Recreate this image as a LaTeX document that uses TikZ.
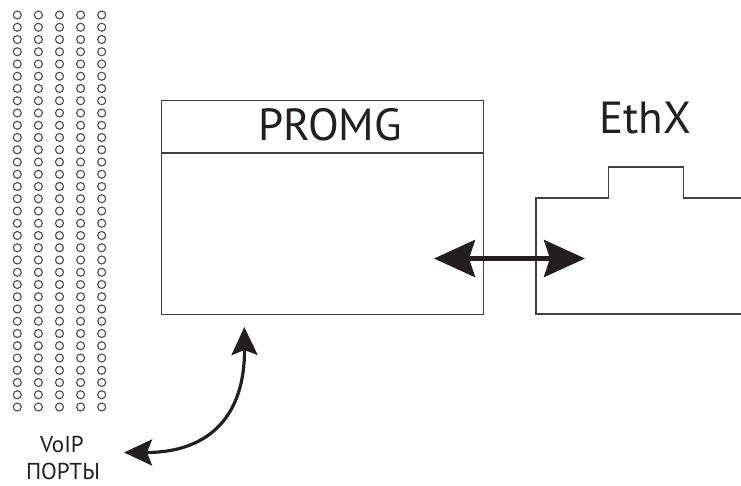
\documentclass[tikz,border=0pt]{standalone}
\usepackage{fontspec}
\setmainfont{PT Sans}
\usetikzlibrary{arrows.meta}
\definecolor{ink}{HTML}{231F20}
\definecolor{edge}{HTML}{404040}
\tikzset{
  boxline/.style={draw=edge, line width=1.3pt},
  port/.style={draw=black!70, line width=1.1pt},
  bigtitle/.style={text=ink, font=\fontsize{45}{48}\selectfont, inner sep=0pt, anchor=base},
  smalllabel/.style={text=ink, font=\fontsize{23}{26}\selectfont, inner sep=0pt, anchor=base},
  thickarrow/.style={draw=ink, line width=4.6pt, {Stealth[length=41pt,width=37pt,inset=6pt]}-{Stealth[length=41pt,width=37pt,inset=6pt]}},
  curvearrow/.style={draw=ink, line width=3.2pt, {Stealth[length=28pt,width=26pt,inset=5pt]}-{Stealth[length=28pt,width=26pt,inset=5pt]}}
}
\begin{document}
\begin{tikzpicture}[x=1pt,y=-1pt]
\useasboundingbox (0,0) rectangle (741,485);
\fill[white] (0,0) rectangle (741,485);
% port dots
\foreach \c in {0,...,4}{
  \foreach \r in {0,...,32}{
    \draw[port] (17.3+\c*21.1, 15+\r*12.25) circle[radius=4pt];
  }
}
% PROMG box
\node[boxline, minimum width=322pt, minimum height=214pt, inner sep=0pt, anchor=north west] (promg) at (161,100) {};
\draw[boxline] ([yshift=-53pt]promg.north west) coordinate (dl) -- ([yshift=-53pt]promg.north east) coordinate (dr);
\node[bigtitle] (promgt) at (330,140) {PROMG};
% EthX shape
\coordinate (e0) at (741,314);
\coordinate (e1) at (536,314);
\coordinate (e2) at (536,198);
\coordinate (e3) at (608.3,198);
\coordinate (e4) at (608.3,167);
\coordinate (e5) at (683.3,167);
\coordinate (e6) at (683.3,198);
\coordinate (e7) at (741,198);
\draw[boxline] (e0) -- (e1) -- (e2) -- (e3) -- (e4) -- (e5) -- (e6) -- (e7);
\node[bigtitle] (ethx) at (645,133.3) {EthX};
% horizontal double arrow
\coordinate (hl) at (434,258.5);
\coordinate (hr) at (585,258.5);
\draw[thickarrow] (hl) -- (hr);
% curved arrow
\coordinate (ct) at (244.3,327);
\coordinate (cl) at (124,452.5);
\draw[curvearrow] (cl) .. controls (210,452.5) and (245,415) .. (ct);
% labels
\node[smalllabel] (voip) at (62,452) {VoIP};
\node[smalllabel] (porty) at (63,479) {ПОРТЫ};
\end{tikzpicture}
\end{document}
